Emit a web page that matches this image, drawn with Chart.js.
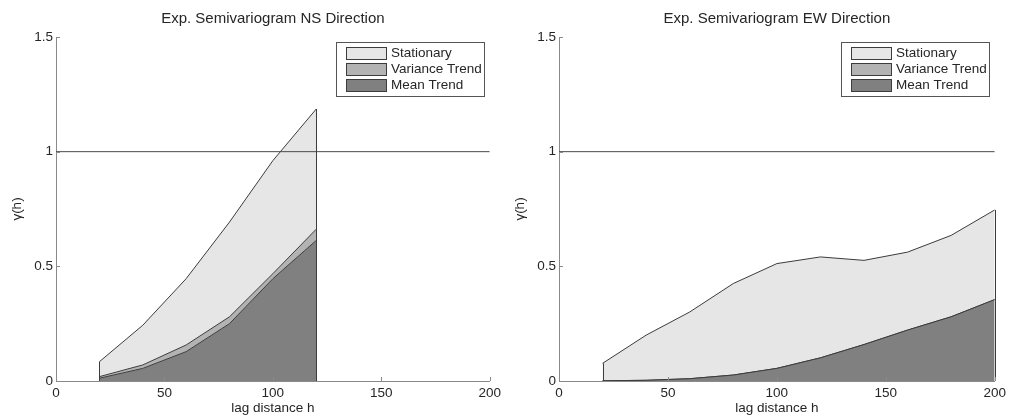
<!DOCTYPE html>
<html>
<head>
<meta charset="utf-8">
<title>Experimental semivariograms</title>
<script src="https://cdn.jsdelivr.net/npm/chart.js@4.4.1/dist/chart.umd.min.js"></script>
<style>
  body { margin: 0; background: #fff; }
  canvas { position: absolute; top: 0; }
</style>
</head>
<body>
<canvas id="nsChart" width="505" height="416" style="left:0"></canvas>
<canvas id="ewChart" width="507" height="416" style="left:503px"></canvas>
<script>
// lag classes and semivariance components, NS direction
const nsLags = [20, 40, 60, 80, 100, 120];
const nsMean = [0.012, 0.055, 0.128, 0.25, 0.446, 0.613];
const nsVariance = [0.007, 0.015, 0.029, 0.03, 0.022, 0.049];
const nsStationary = [0.065, 0.173, 0.289, 0.413, 0.493, 0.524];

// lag classes and semivariance components, EW direction
const ewLags = [20, 40, 60, 80, 100, 120, 140, 160, 180, 200];
const ewMean = [0.001, 0.003, 0.01, 0.026, 0.055, 0.101, 0.159, 0.222, 0.28, 0.355];
const ewVariance = [0, 0, 0, 0, 0, 0, 0, 0, 0, 0];
const ewStationary = [0.076, 0.197, 0.291, 0.399, 0.457, 0.44, 0.367, 0.34, 0.355, 0.391];

const componentLabels = ['Mean Trend', 'Variance Trend', 'Stationary'];
const componentColors = ['#808080', '#b3b3b3', '#e6e6e6'];
const sill = 1;
const lagRange = [0, 200];
const lagTicks = [0, 50, 100, 150, 200];
const gammaTicks = [0, 0.5, 1, 1.5];

const FONT = "'Liberation Sans', Arial, Helvetica, sans-serif";
const TEXT = '#262626';
const EDGE = '#3c3c3c';
const AXIS = '#8a8a8a';

// legend box in the upper right corner of the plot
const boxLegend = {
    id: 'boxLegend',
    afterDatasetsDraw(chart) {
        const { ctx, chartArea } = chart;
        const w = 148, h = 54;
        const x0 = Math.round(chartArea.right - 6 - w);
        const y0 = Math.round(chartArea.top + 5);
        ctx.save();
        ctx.fillStyle = '#fff';
        ctx.fillRect(x0, y0, w, h);
        ctx.strokeStyle = '#555';
        ctx.lineWidth = 1;
        ctx.strokeRect(x0 + 0.5, y0 + 0.5, w, h);
        ctx.font = '13.5px ' + FONT;
        ctx.textBaseline = 'middle';
        ctx.textAlign = 'left';
        // top row is the uppermost layer
        [2, 1, 0].forEach((di, row) => {
            const ds = chart.data.datasets[di];
            const sy = y0 + 5 + row * 16;
            ctx.fillStyle = ds.backgroundColor;
            ctx.fillRect(x0 + 10, sy, 40, 12);
            ctx.strokeStyle = EDGE;
            ctx.strokeRect(x0 + 10.5, sy + 0.5, 40, 12);
            ctx.fillStyle = TEXT;
            ctx.fillText(ds.label, x0 + 55, sy + 6.5);
        });
        ctx.restore();
    }
};

// inward tick marks and the closing edges of the area patch
const axisExtras = {
    id: 'axisExtras',
    afterDatasetsDraw(chart) {
        const { ctx, chartArea, scales } = chart;
        ctx.save();
        ctx.lineWidth = 1;

        // vertical sides of the stacked patch
        const top = chart.getDatasetMeta(2).data;
        const y0 = scales.y.getPixelForValue(0);
        ctx.strokeStyle = EDGE;
        [top[0], top[top.length - 1]].forEach(pt => {
            const x = Math.round(pt.x) + 0.5;
            ctx.beginPath();
            ctx.moveTo(x, y0);
            ctx.lineTo(x, pt.y);
            ctx.stroke();
        });

        ctx.strokeStyle = AXIS;
        lagTicks.forEach(v => {
            const x = Math.round(scales.x.getPixelForValue(v)) + 0.5;
            ctx.beginPath();
            ctx.moveTo(x, chartArea.bottom);
            ctx.lineTo(x, chartArea.bottom - 4);
            ctx.stroke();
        });
        gammaTicks.forEach(v => {
            const y = Math.round(scales.y.getPixelForValue(v)) + 0.5;
            ctx.beginPath();
            ctx.moveTo(chartArea.left, y);
            ctx.lineTo(chartArea.left + 4, y);
            ctx.stroke();
        });
        ctx.restore();
    }
};

function layer(label, color, pts, fill) {
    return {
        label: label,
        data: pts,
        backgroundColor: color,
        borderColor: EDGE,
        borderWidth: 1,
        pointRadius: 0,
        tension: 0,
        fill: fill,
        order: 1
    };
}

function makeChart(canvasId, titleText, lags, mean, variance, stationary, rightPad) {
    // cumulative tops of the stacked components
    const meanTop = lags.map((x, i) => ({ x: x, y: mean[i] }));
    const varTop = lags.map((x, i) => ({ x: x, y: mean[i] + variance[i] }));
    const statTop = lags.map((x, i) => ({ x: x, y: mean[i] + variance[i] + stationary[i] }));

    return new Chart(document.getElementById(canvasId), {
        type: 'line',
        data: {
            datasets: [
                layer(componentLabels[0], componentColors[0], meanTop, 'origin'),
                layer(componentLabels[1], componentColors[1], varTop, '-1'),
                layer(componentLabels[2], componentColors[2], statTop, '-1'),
                {
                    label: 'sill',
                    data: lagRange.map(x => ({ x: x, y: sill })),
                    borderColor: '#4a4a4a',
                    borderWidth: 1,
                    pointRadius: 0,
                    fill: false,
                    order: 0
                }
            ]
        },
        options: {
            responsive: false,
            animation: false,
            devicePixelRatio: 1,
            layout: { padding: { left: 0, right: rightPad, top: 0, bottom: 0 } },
            plugins: {
                legend: { display: false },
                tooltip: { enabled: false },
                title: {
                    display: true,
                    text: titleText,
                    fullSize: false,
                    color: TEXT,
                    font: { family: FONT, size: 15, weight: 'normal' },
                    padding: { top: 10, bottom: 9 }
                }
            },
            scales: {
                x: {
                    type: 'linear',
                    min: lagRange[0],
                    max: lagRange[1],
                    afterFit: s => { s.height = 35; },
                    afterBuildTicks: s => { s.ticks = lagTicks.map(v => ({ value: v })); },
                    grid: { display: false, drawTicks: false },
                    border: { display: true, color: AXIS, width: 1 },
                    ticks: {
                        color: TEXT, padding: 4, maxRotation: 0,
                        font: { family: FONT, size: 13.5 },
                        callback: v => String(v)
                    },
                    title: {
                        display: true,
                        text: 'lag distance h',
                        color: TEXT,
                        font: { family: FONT, size: 13.5 },
                        padding: { top: 0, bottom: 0 }
                    }
                },
                y: {
                    type: 'linear',
                    min: 0,
                    max: 1.5,
                    afterFit: s => { s.width = 56; },
                    afterBuildTicks: s => { s.ticks = gammaTicks.map(v => ({ value: v })); },
                    grid: { display: false, drawTicks: false },
                    border: { display: true, color: AXIS, width: 1 },
                    ticks: {
                        color: TEXT, padding: 3,
                        font: { family: FONT, size: 13.5 },
                        callback: v => String(v)
                    },
                    title: {
                        display: true,
                        text: 'γ(h)',
                        color: TEXT,
                        font: { family: FONT, size: 13.5 },
                        padding: { top: 9, bottom: 0 }
                    }
                }
            }
        },
        plugins: [axisExtras, boxLegend]
    });
}

makeChart('nsChart', 'Exp. Semivariogram NS Direction', nsLags, nsMean, nsVariance, nsStationary, 11);
makeChart('ewChart', 'Exp. Semivariogram EW Direction', ewLags, ewMean, ewVariance, ewStationary, 11);
</script>
</body>
</html>
